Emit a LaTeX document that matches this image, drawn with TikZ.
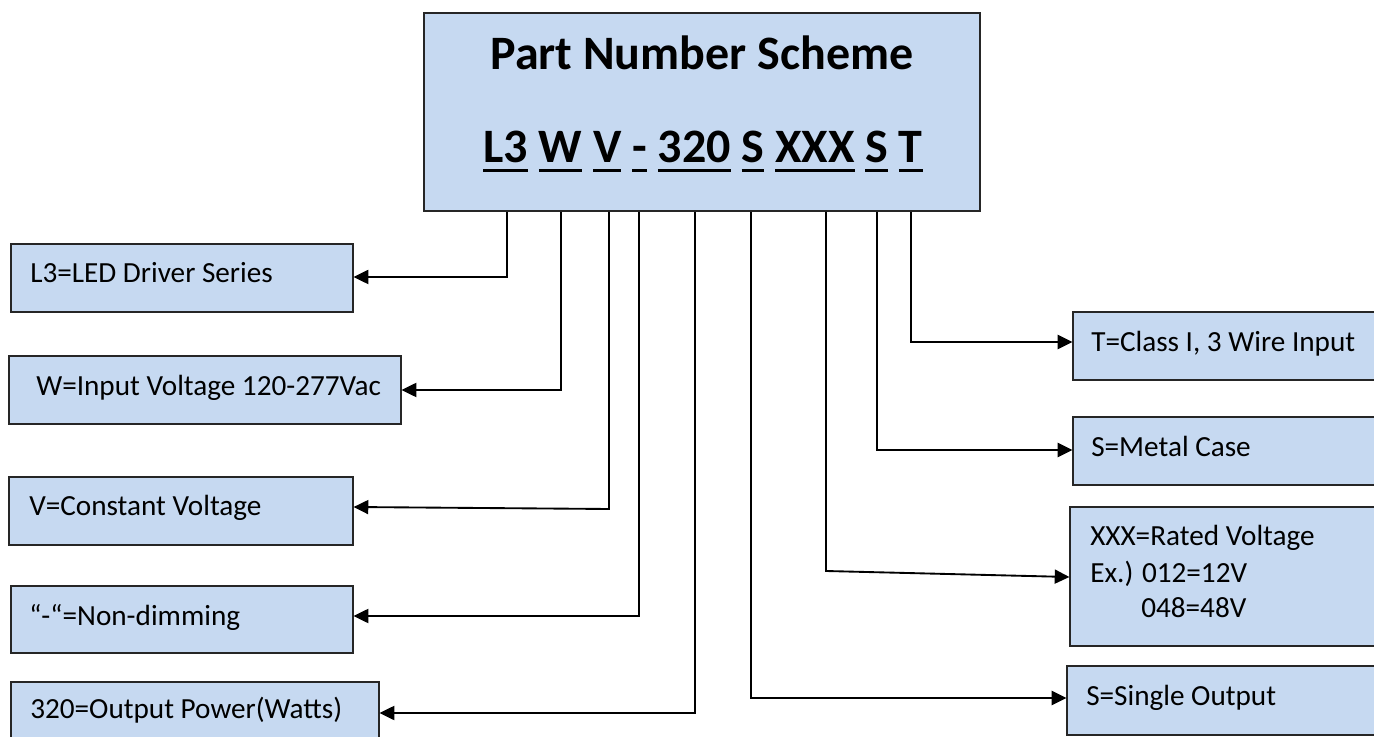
\documentclass[tikz,border=0pt]{standalone}
\usepackage{fontspec}
\setmainfont{Carlito}
\usetikzlibrary{arrows.meta,fit}
\definecolor{boxblue}{HTML}{C6D9F1}
\newcommand{\tokul}[1]{\setbox0\hbox{#1}\rlap{\rule[-6.8pt]{\wd0}{2.3pt}}\box0\relax}
\tikzset{
  x=0.75pt, y=-0.75pt,
  box/.style={draw=black!85, fill=boxblue, line width=0.9pt, inner sep=0pt},
  topbox/.style={box, line width=1.2pt},
  txt/.style={inner sep=0pt, font=\fontsize{21.9}{27}\selectfont, anchor=base west},
  ttl/.style={inner sep=0pt, font=\fontsize{36}{42}\selectfont\bfseries, anchor=base},
  conn/.style={line width=1.4pt, -{Triangle[length=11pt,width=10.5pt]}},
}
\begin{document}
\begin{tikzpicture}
\useasboundingbox (0,0) rectangle (1374,737);
\clip (0,0) rectangle (1374,737);
% top box
\node[topbox, fit={(424,13) (980,211)}] (top) {};
\node[ttl] (title) at (702,70) {Part Number Scheme};
\node[ttl] (code) at (703,163)
  {\tokul{L3} \tokul{W} \tokul{V} \tokul{-} \tokul{320} \tokul{S} \tokul{XXX} \tokul{S} \tokul{T}};
% left boxes
\node[box, fit={(11,244) (353,312)}] (l3) {};
\node[txt] (l3t) at (30,283) {L3=LED Driver Series};
\node[box, fit={(9,356) (401,424)}] (w) {};
\node[txt] (wt) at (36,396) {W=Input Voltage 120-277Vac};
\node[box, fit={(9,477) (353,545)}] (v) {};
\node[txt] (vt) at (29,516) {V=Constant Voltage};
\node[box, fit={(11,586) (353,653)}] (dash) {};
\node[txt] (dasht) at (29,625) {“-“=Non-dimming};
\node[box, fit={(11,682) (379,750)}] (pw) {};
\node[txt] (pwt) at (30,718) {320=Output Power(Watts)};
% right boxes
\node[box, fit={(1073,312) (1390,380)}] (t) {};
\node[txt] (tt) at (1091,352) {T=Class I, 3 Wire Input};
\node[box, fit={(1073,417) (1390,485)}] (metal) {};
\node[txt] (metalt) at (1091,457) {S=Metal Case};
\node[box, fit={(1070,507) (1390,646)}] (xxx) {};
\node[txt] (xxxt1) at (1090,545) {XXX=Rated Voltage};
\node[txt] (xxxt2) at (1090,582) {Ex.)\hspace{6.5pt}012=12V};
\node[txt] (xxxt3) at (1141,617) {048=48V};
\node[box, fit={(1067,666) (1390,735)}] (single) {};
\node[txt] (singlet) at (1086,705) {S=Single Output};
% connectors
\draw[conn] (top.south -| 507,0) |- (l3.east |- 0,277);
\draw[conn] (top.south -| 561,0) |- (w.east |- 0,390);
\draw[conn] (top.south -| 609,0) -- (609,509) -- (v.east |- 0,507);
\draw[conn] (top.south -| 639,0) |- (dash.east |- 0,616);
\draw[conn] (top.south -| 695,0) |- (pw.east |- 0,713);
\draw[conn] (top.south -| 751,0) |- (single.west |- 0,698);
\draw[conn] (top.south -| 826,0) -- (826,571) -- (xxx.west |- 0,577);
\draw[conn] (top.south -| 877,0) |- (metal.west |- 0,450);
\draw[conn] (top.south -| 911,0) |- (t.west |- 0,342);
\end{tikzpicture}
\end{document}
